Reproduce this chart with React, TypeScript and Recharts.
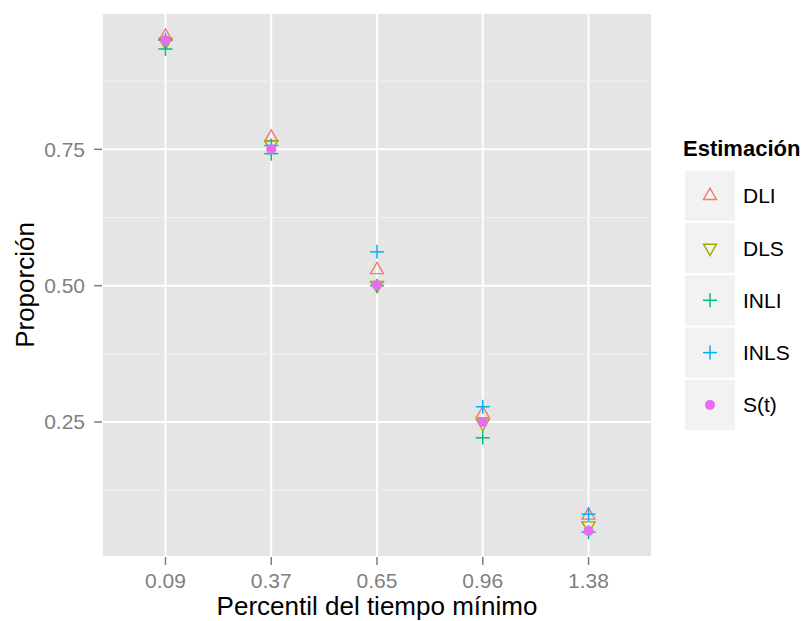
import { ScatterChart, Scatter, XAxis, YAxis, CartesianGrid, ReferenceLine } from 'recharts'

const categories = ['0.09', '0.37', '0.65', '0.96', '1.38']
const dli = [0.957, 0.772, 0.529, 0.265, 0.079]
const dls = [0.947, 0.759, 0.501, 0.248, 0.060]
const inli = [0.934, 0.742, 0.500, 0.221, 0.048]
const inls = [0.951, 0.757, 0.562, 0.278, 0.081]
const st = [0.950, 0.750, 0.501, 0.250, 0.050]
const yTicks = [0.25, 0.5, 0.75]
const yMinor = [0.125, 0.375, 0.625, 0.875]

const FONT = '"Liberation Sans", Arial, Helvetica, sans-serif'

type ShapeKind = 'up' | 'down' | 'plus' | 'dot'

function Marker({ cx, cy, kind, color }: { cx: number; cy: number; kind: ShapeKind; color: string }) {
  if (kind === 'up')
    return <polygon points={`${cx},${cy - 7.5} ${cx + 6.5},${cy + 3.8} ${cx - 6.5},${cy + 3.8}`} fill="none" stroke={color} strokeWidth={1.4} />
  if (kind === 'down')
    return <polygon points={`${cx},${cy + 7.5} ${cx + 6.5},${cy - 3.8} ${cx - 6.5},${cy - 3.8}`} fill="none" stroke={color} strokeWidth={1.4} />
  if (kind === 'plus')
    return (
      <g stroke={color} strokeWidth={1.5}>
        <line x1={cx - 7} y1={cy} x2={cx + 7} y2={cy} />
        <line x1={cx} y1={cy - 7} x2={cx} y2={cy + 7} />
      </g>
    )
  return <circle cx={cx} cy={cy} r={5} fill={color} />
}

const series: { name: string; values: number[]; color: string; kind: ShapeKind }[] = [
  { name: 'DLI', values: dli, color: '#F8766D', kind: 'up' },
  { name: 'DLS', values: dls, color: '#A3A500', kind: 'down' },
  { name: 'INLI', values: inli, color: '#00BF7D', kind: 'plus' },
  { name: 'INLS', values: inls, color: '#00B0F6', kind: 'plus' },
  { name: 'S(t)', values: st, color: '#E76BF3', kind: 'dot' },
]

const toPoints = (vals: number[]) => vals.map((y, i) => ({ x: i + 1, y }))

function Legend() {
  return (
    <svg width={806} height={621} style={{ position: 'absolute', left: 0, top: 0, pointerEvents: 'none' }}>
      <text x={683} y={156} fontFamily={FONT} fontSize={22} fontWeight="bold" fill="#000">Estimación</text>
      {series.map((s, i) => {
        const top = 170.7 + i * 52.3
        return (
          <g key={s.name}>
            <rect x={685} y={top} width={50} height={50} fill="#F2F2F2" />
            <Marker cx={710} cy={top + 25} kind={s.kind} color={s.color} />
            <text x={743} y={top + 25} dy="0.36em" fontFamily={FONT} fontSize={21} fill="#000">{s.name}</text>
          </g>
        )
      })}
    </svg>
  )
}

export default function App() {
  return (
    <div style={{ position: 'absolute', left: 0, top: 0, width: 806, height: 621, background: '#fff', fontFamily: FONT }}>
      <ScatterChart width={806} height={621} margin={{ top: 13, right: 154, bottom: 0, left: 0 }}>
        <CartesianGrid fill="#E5E5E5" fillOpacity={1} stroke="#FFFFFF" strokeWidth={2} />
        {yMinor.map((v) => (
          <ReferenceLine key={v} y={v} stroke="#F2F2F2" strokeWidth={1} />
        ))}
        <XAxis
          type="number"
          dataKey="x"
          domain={[0.4, 5.6]}
          ticks={[1, 2, 3, 4, 5]}
          tickFormatter={(v: number) => categories[v - 1]}
          height={64}
          axisLine={false}
          tickSize={8}
          tickMargin={8}
          tickLine={{ stroke: '#7F7F7F', strokeWidth: 1.5 }}
          tick={{ fill: '#7F7F7F', fontSize: 21, fontFamily: FONT }}
          allowDataOverflow
          label={{
            content: () => (
              <text x={377} y={615} textAnchor="middle" fontFamily={FONT} fontSize={26} fill="#000">Percentil del tiempo mínimo</text>
            ),
          }}
        />
        <YAxis
          type="number"
          dataKey="y"
          domain={[0.0025, 1.0]}
          ticks={yTicks}
          tickFormatter={(v: number) => v.toFixed(2)}
          width={102}
          axisLine={false}
          tickSize={8}
          tickMargin={9}
          tickLine={{ stroke: '#7F7F7F', strokeWidth: 1.5 }}
          tick={{ fill: '#7F7F7F', fontSize: 21, fontFamily: FONT }}
          allowDataOverflow
          label={{
            content: () => (
              <text x={34} y={285} transform="rotate(-90 34 285)" textAnchor="middle" fontFamily={FONT} fontSize={26} fill="#000">Proporción</text>
            ),
          }}
        />
        {series.map((s) => (
          <Scatter
            key={s.name}
            name={s.name}
            data={toPoints(s.values)}
            isAnimationActive={false}
            shape={(p: any) => <Marker cx={p.cx} cy={p.cy} kind={s.kind} color={s.color} />}
          />
        ))}
      </ScatterChart>
      <Legend />
    </div>
  )
}
